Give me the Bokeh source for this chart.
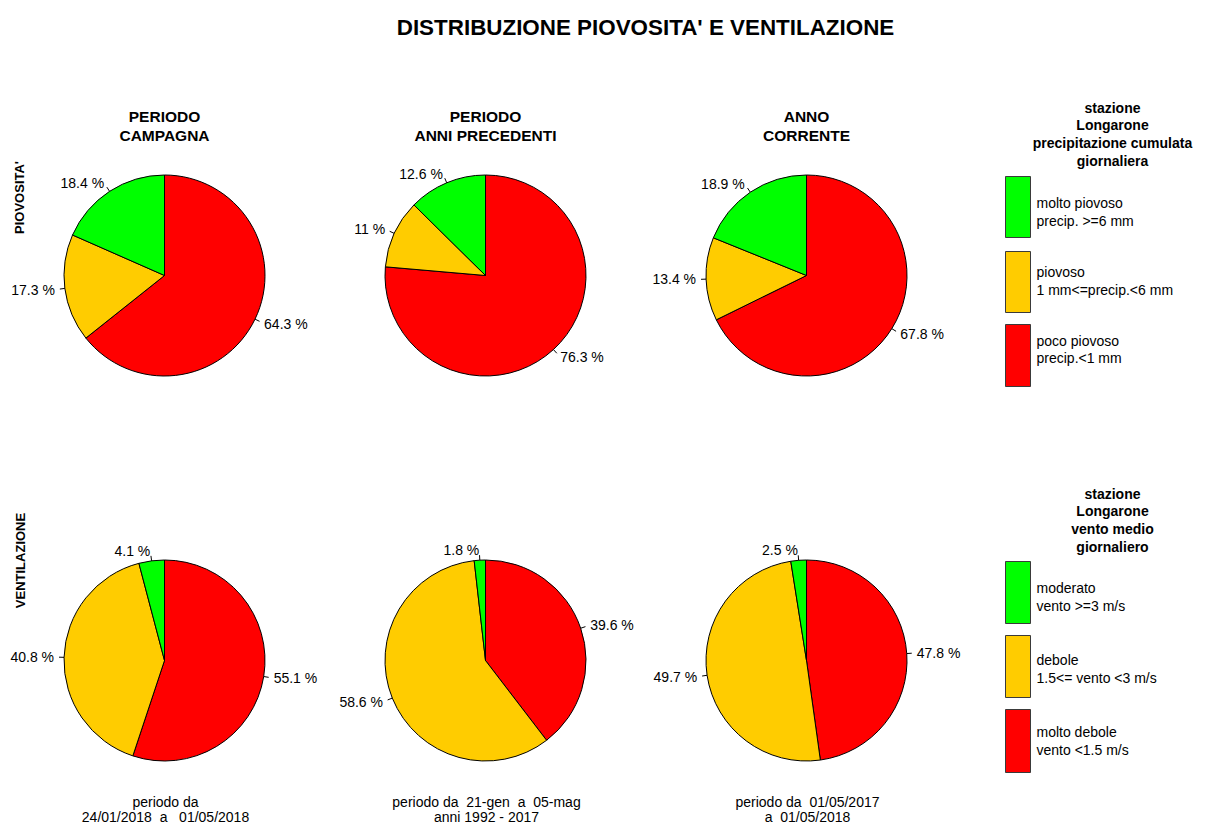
import math
from bokeh.plotting import figure
from bokeh.models import Range1d, ColumnDataSource
from bokeh.embed import file_html
from bokeh.resources import INLINE
from bokeh.core.properties import value

# ---------------- data ----------------
main_title = "DISTRIBUZIONE PIOVOSITA' E VENTILAZIONE"
col_titles = [["PERIODO", "CAMPAGNA"], ["PERIODO", "ANNI PRECEDENTI"], ["ANNO", "CORRENTE"]]
row_titles = ["PIOVOSITA'", "VENTILAZIONE"]
class_colors = ["#00FF00", "#FFCC00", "#FF0000"]

rain_campagna = [18.4, 17.3, 64.3]
rain_precedenti = [12.6, 11.0, 76.3]
rain_corrente = [18.9, 13.4, 67.8]
wind_campagna = [4.1, 40.8, 55.1]
wind_precedenti = [1.8, 58.6, 39.6]
wind_corrente = [2.5, 49.7, 47.8]

NB = "\u00a0"
period_notes = [
    ["periodo da", f"24/01/2018{NB} a{NB}{NB} 01/05/2018"],
    [f"periodo da{NB} 21-gen{NB} a{NB} 05-mag", "anni 1992 - 2017"],
    [f"periodo da{NB} 01/05/2017", f"a{NB} 01/05/2018"],
]

rain_legend_title = ["stazione", "Longarone", "precipitazione cumulata", "giornaliera"]
rain_classes = [["molto piovoso", "precip. >=6 mm"],
                ["piovoso", "1 mm<=precip.<6 mm"],
                ["poco piovoso", "precip.<1 mm"]]
wind_legend_title = ["stazione", "Longarone", "vento medio", "giornaliero"]
wind_classes = [["moderato", "vento >=3 m/s"],
                ["debole", "1.5<= vento <3 m/s"],
                ["molto debole", "vento <1.5 m/s"]]

# ---------------- layout ----------------
PW, PH = 1195, 823
H = 839
FONT = "Liberation Sans"


def Y(y):
    return H - y


col_x = [164, 485, 806]
row_y = [275, 660]
R = 100.5

p = figure(width=PW, height=PH, x_range=Range1d(0, PW), y_range=Range1d(H - PH, H),
           output_backend="svg", toolbar_location=None, min_border=0)
p.axis.visible = False
p.grid.visible = False
p.outline_line_color = None
p.background_fill_color = "white"
p.border_fill_color = "white"

# ---------------- pies ----------------
pies = [[rain_campagna, rain_precedenti, rain_corrente],
        [wind_campagna, wind_precedenti, wind_corrente]]

wd = dict(x=[], y=[], r=[], a0=[], a1=[], color=[])
sg = dict(x0=[], y0=[], x1=[], y1=[])
lab = dict(x=[], y=[], text=[], align=[])
for ri, row in enumerate(pies):
    for ci, vals in enumerate(row):
        cx, cy = col_x[ci], Y(row_y[ri])
        total = sum(vals)
        start = 90.0
        for k in [2, 1, 0]:  # clockwise from 12 o'clock: red, yellow, green
            frac = vals[k] / total
            end = start - frac * 360.0
            wd["x"].append(cx); wd["y"].append(cy); wd["r"].append(R)
            wd["a0"].append(math.radians(start)); wd["a1"].append(math.radians(end))
            wd["color"].append(class_colors[k])
            mid = math.radians((start + end) / 2)
            c, s = math.cos(mid), math.sin(mid)
            sg["x0"].append(cx + R * c); sg["y0"].append(cy + R * s)
            sg["x1"].append(cx + 1.05 * R * c); sg["y1"].append(cy + 1.05 * R * s)
            lab["x"].append(cx + 1.1 * R * c); lab["y"].append(cy + 1.1 * R * s)
            lab["text"].append(f"{vals[k]:g} %")
            lab["align"].append("left" if c >= 0 else "right")
            start = end

p.wedge(x="x", y="y", radius="r", start_angle="a0", end_angle="a1", direction="clock",
        fill_color="color", line_color="black", line_width=1, source=ColumnDataSource(wd))
p.segment(x0="x0", y0="y0", x1="x1", y1="y1", line_color="black", line_width=1,
          source=ColumnDataSource(sg))
p.text(x="x", y="y", text="text", text_align="align", text_baseline="middle",
       text_font=value(FONT), text_font_size="14px", text_color="black",
       source=ColumnDataSource(lab))

# ---------------- texts ----------------
def add_text(xs, ys, texts, size, bold=False, align="center", angle=0.0):
    p.text(x=xs, y=ys, text=texts, text_align=align, text_baseline="middle",
           text_font=value(FONT), text_font_size=size,
           text_font_style="bold" if bold else "normal", text_color="black", angle=angle)

add_text([645], [Y(27)], [main_title], "22.4px", bold=True)

tx, ty, tt = [], [], []
for ci, lines in enumerate(col_titles):
    for li, t in enumerate(lines):
        tx.append(col_x[ci]); ty.append(Y(116 + 19 * li)); tt.append(t)
add_text(tx, ty, tt, "15.5px", bold=True)

add_text([19, 20], [Y(197), Y(560)], row_titles, "13px", bold=True, angle=math.pi / 2)

nx, ny, nt = [], [], []
for ci, lines in enumerate(period_notes):
    for li, t in enumerate(lines):
        nx.append(col_x[ci] + 1); ny.append(Y(801 + 15 * li)); nt.append(t)
add_text(nx, ny, nt, "14px")

# ---------------- legends ----------------
leg_cx = 1112
box_l, box_r = 1005, 1030
text_x = 1036


def add_legend(title_lines, title_y0, classes, box_tb, text_ys):
    add_text([leg_cx] * len(title_lines), [Y(title_y0 + 17.8 * i) for i in range(len(title_lines))],
             title_lines, "14px", bold=True)
    p.quad(left=[box_l] * 3, right=[box_r] * 3,
           top=[Y(t) for t, b in box_tb], bottom=[Y(b) for t, b in box_tb],
           fill_color=class_colors, line_color="#3a3a3a", line_width=1)
    lx, ly, lt = [], [], []
    for k, lines in enumerate(classes):
        for li, t in enumerate(lines):
            lx.append(text_x); ly.append(Y(text_ys[k][li])); lt.append(t)
    add_text(lx, ly, lt, "14px", align="left")


add_legend(rain_legend_title, 107, rain_classes,
           [(176, 237), (251, 312), (324, 386)],
           [(202, 220), (271, 289), (340, 357)])
add_legend(wind_legend_title, 493, wind_classes,
           [(561, 623), (635, 697), (709, 772)],
           [(587, 605), (659, 677), (731, 749)])

open("out.html", "w").write(file_html(p, INLINE))
